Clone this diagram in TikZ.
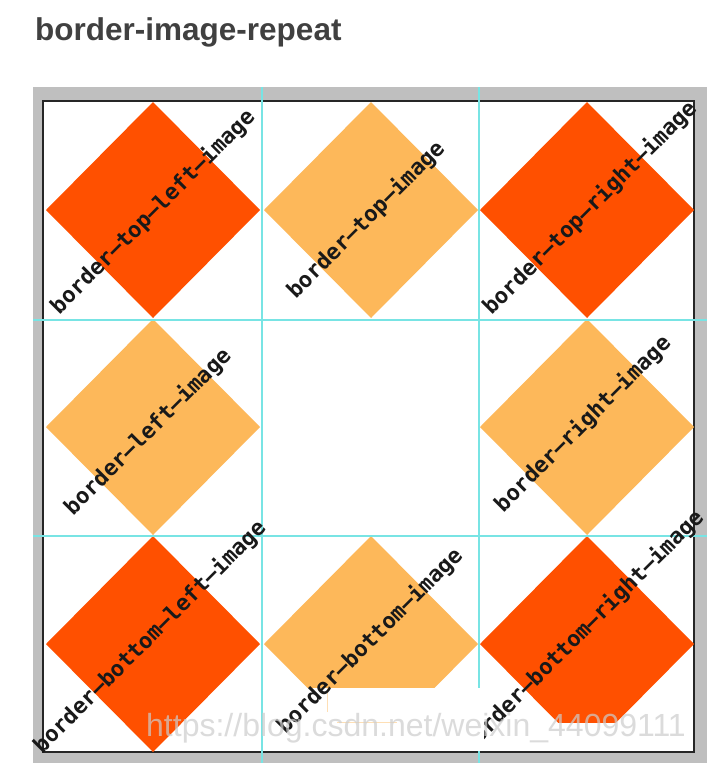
\documentclass[tikz,border=0pt]{standalone}
\usepackage{fontspec}
\setmainfont{Liberation Sans}
\newfontfamily\labfont{DejaVu Sans Mono}
\definecolor{darkor}{RGB}{255,80,0}
\definecolor{lightor}{RGB}{253,184,90}
\definecolor{framegray}{RGB}{191,191,191}
\definecolor{guide}{RGB}{120,228,228}
\definecolor{titlegray}{RGB}{64,64,64}
\begin{document}
\begin{tikzpicture}[x=1pt,y=-1pt,
  lab/.style={font=\labfont\bfseries\fontsize{22}{22}\selectfont, rotate=45, inner sep=0pt, text=black!90},
  guideline/.style={draw=guide, line width=1.8pt},
  tilefill/.style={fill=#1}]
\useasboundingbox (0,0) rectangle (718,782);
% title
\node[anchor=base west, font=\bfseries\fontsize{31.5}{32}\selectfont, text=titlegray, inner sep=0pt] (title) at (35,40) {border-image-repeat};
% frame
\fill[framegray] (33,87) rectangle (707,763);
\draw[fill=white, draw=black!85, line width=2pt] (43,101) rectangle (694,752);
% diamonds
\foreach \cx/\cy/\c in {153/210/darkor, 371/210/lightor, 587/210/darkor, 153/427/lightor, 587/427/lightor, 153/644/darkor}
  \fill[tilefill=\c] (\cx,\cy-108) -- (\cx+107,\cy) -- (\cx,\cy+108) -- (\cx-107,\cy) -- cycle;
\begin{scope}
  \clip (262,530) rectangle (479,688);
  \fill[tilefill=lightor] (371,644-108) -- (371+107,644) -- (371,644+108) -- (371-107,644) -- cycle;
\end{scope}
\begin{scope}
  \clip (479,530) rectangle (694,722);
  \fill[tilefill=darkor] (587,644-108) -- (587+107,644) -- (587,644+108) -- (587-107,644) -- cycle;
\end{scope}
% guide lines
\draw[guideline] (262,87) -- (262,763);
\draw[guideline] (479,87) -- (479,763);
\draw[guideline] (33,320) -- (707,320);
\draw[guideline] (33,536) -- (707,536);
% bottom-right label (partly covered)
\node[lab] (lbr) at (583,631) {border–bottom–right–image};
% white patch
\fill[white] (290,688) rectangle (484,751);
\draw[lightor!45, line width=1pt] (327,688) -- (327,712);
\draw[lightor!45, line width=1pt] (337,722) -- (397,722);
% labels
\node[lab] (ltl) at (153,212) {border–top–left–image};
\node[lab] (lt) at (366,220) {border–top–image};
\node[lab] (ltr) at (590,208) {border–top–right–image};
\node[lab] (lml) at (148,432) {border–left–image};
\node[lab] (lmr) at (583,424) {border–right–image};
\node[lab] (lbl) at (150,637) {border–bottom–left–image};
\node[lab] (lbm) at (370,641) {border–bottom–image};
% watermark
\node[anchor=base west, font=\fontsize{32}{32}\selectfont, text=white!80!black, opacity=0.7, inner sep=0pt] (wm) at (146,736) {https://blog.csdn.net/weixin\_44099111};
\end{tikzpicture}
\end{document}
